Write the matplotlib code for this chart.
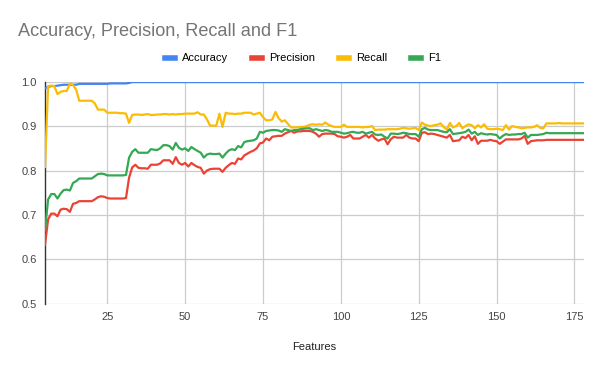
import matplotlib
matplotlib.use("Agg")
import matplotlib.pyplot as plt

plt.rcParams['font.family'] = ['Liberation Sans', 'DejaVu Sans']

# Numero de features: 5 .. 178
features = list(range(5, 179))

accuracy = [
    0.985, 0.988, 0.990, 0.990, 0.991, 0.992, 0.993, 0.993, 0.993, 0.993,
    0.993, 0.995, 0.995, 0.995, 0.995, 0.995, 0.995, 0.995, 0.995, 0.995,
    0.995, 0.996, 0.996, 0.996, 0.996, 0.996, 0.996, 0.997, 0.999, 0.999,
    0.999, 0.999, 0.999, 0.999, 0.999, 0.999, 0.999, 0.999, 0.999, 0.999,
    0.999, 0.999, 0.999, 0.999, 0.999, 0.999, 0.999, 0.999, 0.999, 0.999,
    0.999, 0.999, 0.999, 0.999, 0.999, 0.999, 0.999, 0.999, 0.999, 0.999,
    0.999, 0.999, 0.999, 0.999, 0.999, 0.999, 0.999, 0.999, 0.999, 0.999,
    0.999, 0.999, 0.999, 0.999, 0.999, 0.999, 0.999, 0.999, 0.999, 0.999,
    0.999, 0.999, 0.999, 0.999, 0.999, 0.999, 0.999, 0.999, 0.999, 0.999,
    0.999, 0.999, 0.999, 0.999, 0.999, 0.999, 0.999, 0.999, 0.999, 0.999,
    0.999, 0.999, 0.999, 0.999, 0.999, 0.999, 0.999, 0.999, 0.999, 0.999,
    0.999, 0.999, 0.999, 0.999, 0.999, 0.999, 0.999, 0.999, 0.999, 0.999,
    0.999, 0.999, 0.999, 0.999, 0.999, 0.999, 0.999, 0.999, 0.999, 0.999,
    0.999, 0.999, 0.999, 0.999, 0.999, 0.999, 0.999, 0.999, 0.999, 0.999,
    0.999, 0.999, 0.999, 0.999, 0.999, 0.999, 0.999, 0.999, 0.999, 0.999,
    0.999, 0.999, 0.999, 0.999, 0.999, 0.999, 0.999, 0.999, 0.999, 0.999,
    0.999, 0.999, 0.999, 0.999, 0.999, 0.999, 0.999, 0.999, 0.999, 0.999,
    0.999, 0.999, 0.999, 0.999,
]

precision = [
    0.633, 0.690, 0.703, 0.703, 0.697, 0.712, 0.714, 0.713, 0.707, 0.725,
    0.727, 0.731, 0.731, 0.731, 0.731, 0.731, 0.735, 0.740, 0.742, 0.741,
    0.738, 0.737, 0.737, 0.737, 0.737, 0.737, 0.738, 0.784, 0.807, 0.813,
    0.806, 0.805, 0.805, 0.804, 0.813, 0.813, 0.813, 0.816, 0.823, 0.823,
    0.823, 0.815, 0.830, 0.817, 0.813, 0.817, 0.809, 0.817, 0.812, 0.808,
    0.806, 0.793, 0.800, 0.803, 0.804, 0.804, 0.804, 0.797, 0.806, 0.812,
    0.817, 0.815, 0.827, 0.825, 0.834, 0.838, 0.842, 0.845, 0.850, 0.861,
    0.863, 0.872, 0.868, 0.876, 0.877, 0.878, 0.878, 0.883, 0.886, 0.889,
    0.885, 0.888, 0.888, 0.889, 0.889, 0.889, 0.887, 0.883, 0.876, 0.882,
    0.883, 0.883, 0.883, 0.882, 0.877, 0.876, 0.874, 0.876, 0.880, 0.872,
    0.872, 0.872, 0.876, 0.880, 0.874, 0.880, 0.872, 0.867, 0.870, 0.872,
    0.859, 0.870, 0.876, 0.874, 0.874, 0.874, 0.880, 0.874, 0.872, 0.872,
    0.866, 0.885, 0.886, 0.882, 0.883, 0.882, 0.880, 0.878, 0.876, 0.874,
    0.880, 0.866, 0.867, 0.868, 0.876, 0.873, 0.880, 0.868, 0.877, 0.860,
    0.867, 0.867, 0.867, 0.869, 0.867, 0.866, 0.860, 0.865, 0.870, 0.870,
    0.870, 0.870, 0.870, 0.872, 0.878, 0.860, 0.866, 0.867, 0.868, 0.868,
    0.868, 0.869, 0.869, 0.869, 0.869, 0.869, 0.869, 0.869, 0.869, 0.869,
    0.869, 0.869, 0.869, 0.869,
]

recall = [
    0.808, 0.990, 0.991, 0.990, 0.972, 0.977, 0.979, 0.979, 0.996, 0.992,
    0.982, 0.957, 0.957, 0.957, 0.957, 0.957, 0.951, 0.937, 0.937, 0.937,
    0.930, 0.930, 0.930, 0.930, 0.929, 0.929, 0.928, 0.907, 0.925, 0.926,
    0.926, 0.925, 0.926, 0.927, 0.925, 0.925, 0.926, 0.926, 0.927, 0.927,
    0.926, 0.927, 0.926, 0.927, 0.927, 0.928, 0.928, 0.928, 0.928, 0.931,
    0.926, 0.926, 0.915, 0.901, 0.901, 0.901, 0.928, 0.898, 0.930, 0.928,
    0.928, 0.927, 0.928, 0.928, 0.930, 0.930, 0.930, 0.926, 0.928, 0.930,
    0.920, 0.913, 0.913, 0.915, 0.932, 0.918, 0.910, 0.913, 0.905, 0.897,
    0.897, 0.897, 0.898, 0.898, 0.900, 0.903, 0.904, 0.903, 0.904, 0.903,
    0.908, 0.903, 0.900, 0.898, 0.898, 0.898, 0.903, 0.898, 0.898, 0.898,
    0.898, 0.898, 0.897, 0.898, 0.898, 0.900, 0.891, 0.892, 0.892, 0.892,
    0.893, 0.893, 0.893, 0.893, 0.894, 0.896, 0.895, 0.894, 0.895, 0.896,
    0.891, 0.908, 0.903, 0.901, 0.900, 0.902, 0.903, 0.906, 0.898, 0.892,
    0.907, 0.897, 0.900, 0.907, 0.895, 0.900, 0.904, 0.902, 0.895, 0.902,
    0.897, 0.904, 0.894, 0.893, 0.893, 0.894, 0.893, 0.891, 0.902, 0.892,
    0.900, 0.898, 0.897, 0.895, 0.896, 0.897, 0.897, 0.898, 0.902, 0.896,
    0.895, 0.906, 0.906, 0.906, 0.906, 0.907, 0.906, 0.906, 0.906, 0.906,
    0.906, 0.906, 0.906, 0.906,
]

f1 = [
    0.666, 0.735, 0.747, 0.747, 0.737, 0.748, 0.756, 0.757, 0.755, 0.772,
    0.776, 0.782, 0.782, 0.782, 0.782, 0.782, 0.787, 0.792, 0.793, 0.792,
    0.789, 0.789, 0.789, 0.789, 0.789, 0.789, 0.790, 0.829, 0.842, 0.848,
    0.840, 0.840, 0.840, 0.840, 0.848, 0.847, 0.846, 0.850, 0.857, 0.857,
    0.855, 0.847, 0.862, 0.851, 0.847, 0.850, 0.844, 0.853, 0.848, 0.844,
    0.840, 0.829, 0.836, 0.838, 0.837, 0.837, 0.838, 0.829, 0.838, 0.845,
    0.848, 0.846, 0.855, 0.852, 0.864, 0.866, 0.867, 0.868, 0.872, 0.887,
    0.885, 0.889, 0.890, 0.891, 0.891, 0.890, 0.887, 0.893, 0.891, 0.889,
    0.891, 0.891, 0.893, 0.894, 0.895, 0.895, 0.891, 0.893, 0.891, 0.889,
    0.891, 0.890, 0.887, 0.887, 0.887, 0.885, 0.883, 0.884, 0.886, 0.887,
    0.885, 0.885, 0.887, 0.883, 0.885, 0.887, 0.881, 0.880, 0.881, 0.876,
    0.872, 0.883, 0.883, 0.882, 0.883, 0.885, 0.884, 0.882, 0.882, 0.882,
    0.876, 0.893, 0.896, 0.892, 0.891, 0.891, 0.891, 0.889, 0.887, 0.886,
    0.893, 0.882, 0.883, 0.884, 0.885, 0.887, 0.892, 0.883, 0.887, 0.880,
    0.884, 0.882, 0.881, 0.882, 0.881, 0.880, 0.872, 0.878, 0.882, 0.880,
    0.881, 0.881, 0.882, 0.882, 0.885, 0.874, 0.880, 0.880, 0.880, 0.881,
    0.882, 0.885, 0.884, 0.884, 0.884, 0.884, 0.884, 0.884, 0.884, 0.884,
    0.884, 0.884, 0.884, 0.884,
]

series = [
    ("Accuracy", accuracy, "#4285F4"),
    ("Precision", precision, "#EA4335"),
    ("Recall", recall, "#FBBC04"),
    ("F1", f1, "#34A853"),
]

fig = plt.figure(figsize=(6, 3.71), dpi=100)
ax = fig.add_axes([0.075, 0.181, 0.898, 0.599])

for nome, valores, cor in series:
    ax.plot(features, valores, color=cor, linewidth=1.6, label=nome,
            solid_joinstyle="round", zorder=3)

ax.set_xlim(5, 178)
ax.set_ylim(0.5, 1.0)
ax.set_xticks([25, 50, 75, 100, 125, 150, 175])
ax.set_yticks([0.5, 0.6, 0.7, 0.8, 0.9, 1.0])
ax.set_yticklabels(["0.5", "0.6", "0.7", "0.8", "0.9", "1.0"])
ax.grid(True, color="#cccccc", linewidth=0.9, zorder=0)
ax.tick_params(length=0, labelsize=8, colors="#444444", pad=6)

for lado in ["top", "right", "bottom"]:
    ax.spines[lado].set_visible(False)
ax.spines["left"].set_color("#333333")
ax.spines["left"].set_linewidth(1.0)

ax.set_xlabel("Features", fontsize=8, color="#222222", labelpad=14)

fig.text(0.03, 0.915, "Accuracy, Precision, Recall and F1", fontsize=13.1,
         color="#757575", ha="left", va="center")

leg = fig.legend(loc="center", bbox_to_anchor=(0.505, 0.843), ncol=4,
                 frameon=False, fontsize=8, handlelength=0.9, handleheight=0.5,
                 columnspacing=2.2, handletextpad=0.6)
for linha in leg.get_lines():
    linha.set_linewidth(4)

fig.savefig("out.png", dpi=100)
